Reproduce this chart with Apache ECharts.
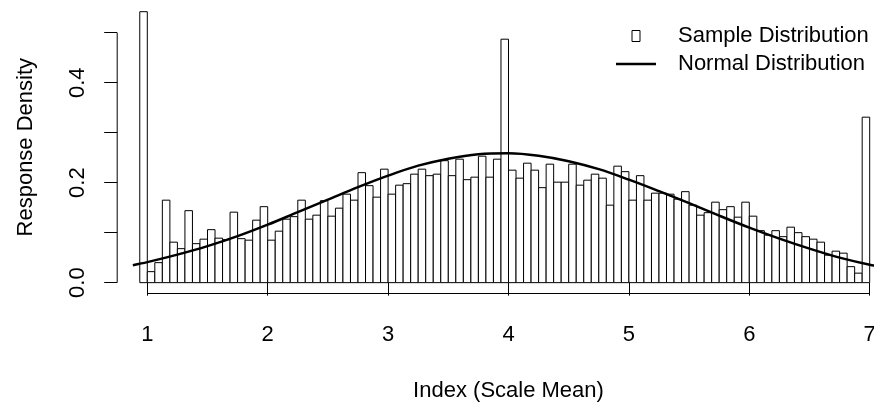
<!DOCTYPE html>
<html><head><meta charset="utf-8">
<script src="https://cdn.jsdelivr.net/npm/echarts@6/dist/echarts.min.js"></script>
<style>html,body{margin:0;padding:0;background:#fff}#c{width:874px;height:403px}</style>
</head><body><div id="c"></div>
<script>
// ---- data ----
const BIN_START = 0.9375;   // left edge of first histogram bin
const BIN_WIDTH = 0.0625;   // width of each bin
const densities = [
  0.542, 0.022, 0.040, 0.165, 0.081, 0.068, 0.144, 0.078, 0.087, 0.106,
  0.089, 0.086, 0.141, 0.088, 0.085, 0.125, 0.152, 0.085, 0.103, 0.127,
  0.132, 0.165, 0.127, 0.135, 0.164, 0.133, 0.149, 0.177, 0.165, 0.220,
  0.194, 0.171, 0.227, 0.177, 0.195, 0.198, 0.217, 0.227, 0.214, 0.217,
  0.244, 0.214, 0.247, 0.206, 0.211, 0.253, 0.211, 0.247, 0.487, 0.225,
  0.209, 0.239, 0.225, 0.190, 0.237, 0.201, 0.201, 0.237, 0.195, 0.205,
  0.217, 0.209, 0.155, 0.233, 0.222, 0.165, 0.214, 0.165, 0.179, 0.179,
  0.177, 0.167, 0.182, 0.155, 0.135, 0.140, 0.161, 0.146, 0.152, 0.131,
  0.161, 0.133, 0.104, 0.095, 0.104, 0.092, 0.111, 0.100, 0.092, 0.087,
  0.081, 0.055, 0.063, 0.059, 0.032, 0.019, 0.331
];
const normalX = [0.88, 1.0, 1.25, 1.5, 1.75, 2.0, 2.25, 2.5, 2.75, 3.0, 3.25, 3.5, 3.75, 4.0,
                 4.25, 4.5, 4.75, 5.0, 5.25, 5.5, 5.75, 6.0, 6.25, 6.5, 6.75, 7.0, 7.25];
const normalY = [0.035, 0.041, 0.056, 0.073, 0.093, 0.116, 0.141, 0.166, 0.191, 0.214, 0.234, 0.248, 0.257, 0.259,
                 0.254, 0.243, 0.227, 0.206, 0.183, 0.159, 0.134, 0.110, 0.088, 0.068, 0.050, 0.036, 0.026];
const xTicks = [1, 2, 3, 4, 5, 6, 7];
const yTicks = [0, 0.1, 0.2, 0.3, 0.4, 0.5];
const yLabelValues = [0, 0.2, 0.4];
const legendNames = ['Sample Distribution', 'Normal Distribution'];
const xTitle = 'Index (Scale Mean)';
const yTitle = 'Response Density';

// ---- chart ----
const FONT = '"Liberation Sans", Arial, Helvetica, sans-serif';
const FS = 22;
const X_MIN = 0.75, X_MAX = 7.25, Y_MIN = -0.0217, Y_MAX = 0.5636;

const barData = densities.map((d, i) => [BIN_START + i * BIN_WIDTH, BIN_START + (i + 1) * BIN_WIDTH, d]);
const curveData = normalX.map((x, i) => [x, normalY[i]]);

const chart = echarts.init(document.getElementById('c'), null, {renderer: 'canvas'});
chart.setOption({
  animation: false,
  backgroundColor: '#fff',
  grid: {left: 117.2, top: 0.9, width: 782.6, height: 292.6, containLabel: false, outerBoundsMode: 'none'},
  xAxis: {
    type: 'value', min: X_MIN, max: X_MAX,
    axisLine: {show: false},
    splitLine: {show: false},
    axisTick: {show: true, customValues: xTicks, length: 13, lineStyle: {color: '#000', width: 1}},
    axisLabel: {customValues: xTicks, margin: 30, fontSize: FS, color: '#000', fontFamily: FONT},
    name: xTitle, nameLocation: 'middle', nameGap: 86,
    nameTextStyle: {fontSize: FS, color: '#000', fontFamily: FONT}
  },
  yAxis: {
    type: 'value', min: Y_MIN, max: Y_MAX,
    axisLine: {show: false},
    splitLine: {show: false},
    axisTick: {show: true, customValues: yTicks, length: 13, lineStyle: {color: '#000', width: 1}},
    axisLabel: {customValues: yLabelValues, rotate: 90, margin: 28, fontSize: FS, color: '#000', fontFamily: FONT,
      formatter: v => v.toFixed(1)},
    name: yTitle, nameLocation: 'middle', nameGap: 80, nameRotate: 90,
    nameTextStyle: {fontSize: FS, color: '#000', fontFamily: FONT}
  },
  legend: {
    orient: 'vertical', left: 611, top: 20, itemWidth: 40, itemHeight: 11, itemGap: 6,
    selectedMode: false,
    textStyle: {fontSize: FS, color: '#000', fontFamily: FONT, padding: [0, 0, 0, 17]},
    data: [
      {name: legendNames[0], icon: 'path://M0,0L8,0L8,11L0,11Z',
       itemStyle: {color: '#fff', borderColor: '#000', borderWidth: 1}},
      {name: legendNames[1], icon: 'path://M0,0L40,0L40,2.5L0,2.5Z',
       itemStyle: {color: '#000', borderWidth: 0}}
    ]
  },
  series: [
    {
      name: legendNames[0], type: 'custom', z: 2,
      itemStyle: {color: '#fff', borderColor: '#000', borderWidth: 1},
      encode: {x: [0, 1], y: 2},
      data: barData,
      renderItem: (params, api) => {
        const p0 = api.coord([api.value(0), api.value(2)]);
        const p1 = api.coord([api.value(1), 0]);
        return {
          type: 'rect',
          shape: {x: p0[0], y: p0[1], width: p1[0] - p0[0], height: p1[1] - p0[1]},
          style: {fill: '#fff', stroke: '#000', lineWidth: 1}
        };
      }
    },
    {
      name: legendNames[1], type: 'line', z: 3,
      data: curveData, smooth: 0.35, symbol: 'none', showSymbol: false,
      lineStyle: {color: '#000', width: 2.5},
      itemStyle: {color: '#000'}
    },
    {
      name: 'axes', type: 'custom', z: 4, silent: true,
      data: [[0]],
      renderItem: (params, api) => {
        const a = api.coord([xTicks[0], Y_MIN]);
        const b = api.coord([xTicks[xTicks.length - 1], Y_MIN]);
        const c = api.coord([X_MIN, yTicks[0]]);
        const d = api.coord([X_MIN, yTicks[yTicks.length - 1]]);
        const st = {stroke: '#000', lineWidth: 1};
        return {type: 'group', children: [
          {type: 'line', shape: {x1: a[0], y1: a[1], x2: b[0], y2: b[1]}, style: st},
          {type: 'line', shape: {x1: c[0], y1: c[1], x2: d[0], y2: d[1]}, style: st}
        ]};
      }
    }
  ]
});
</script>
</body></html>
